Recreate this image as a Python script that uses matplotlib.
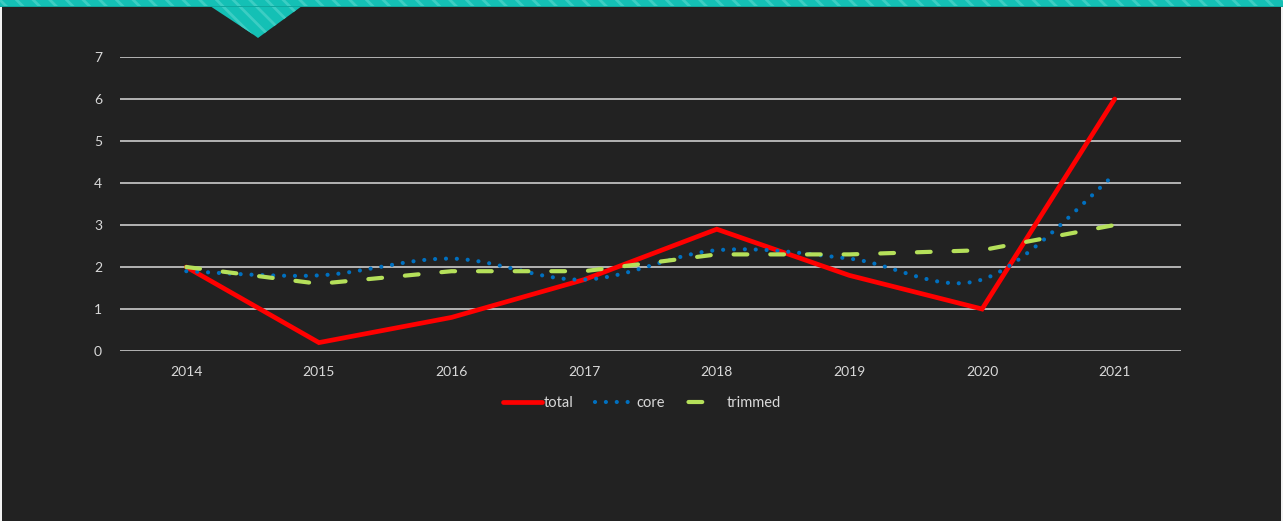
import numpy as np
import matplotlib
matplotlib.use("Agg")
import matplotlib.pyplot as plt
from matplotlib.patches import Rectangle, Polygon
from matplotlib.lines import Line2D

years = ["2014", "2015", "2016", "2017", "2018", "2019", "2020", "2021"]
total = [2.0, 0.2, 0.8, 1.7, 2.9, 1.8, 1.0, 6.0]
core = [1.9, 1.8, 2.2, 1.7, 2.4, 2.2, 1.7, 4.2]
trimmed = [2.0, 1.6, 1.9, 1.9, 2.3, 2.3, 2.4, 3.0]
yticks = [0, 1, 2, 3, 4, 5, 6, 7]

BG = "#222222"
TXT = "#d9d9d9"
GRID = "#bfbfbf"
TEAL = "#14c0b5"
TEAL2 = "#3ccdc3"
RED = "#ff0000"
BLUE = "#0070c0"
GREEN = "#b5e05a"

plt.rcParams["font.family"] = ["Lato", "DejaVu Sans"]
plt.rcParams["hatch.linewidth"] = 2.0


def smooth(xs, ys, n=30):
    xs = np.asarray(xs, float)
    ys = np.asarray(ys, float)
    P = np.column_stack([xs, ys])
    out = []
    for i in range(len(P) - 1):
        p0 = P[i - 1] if i > 0 else P[i]
        p1 = P[i]
        p2 = P[i + 1]
        p3 = P[i + 2] if i + 2 < len(P) else P[i + 1]
        c1 = p1 + (p2 - p0) / 6.0
        c2 = p2 - (p3 - p1) / 6.0
        t = np.linspace(0, 1, n)[:, None]
        seg = ((1 - t) ** 3) * p1 + 3 * ((1 - t) ** 2) * t * c1 + 3 * (1 - t) * t ** 2 * c2 + t ** 3 * p2
        out.append(seg if i == 0 else seg[1:])
    out = np.vstack(out)
    return out[:, 0], out[:, 1]


fig = plt.figure(figsize=(12.83, 5.21), dpi=100, facecolor=BG)
W, H = 1283, 521

# decorative top band with tab
band = Rectangle((0, 1 - 7 / H), 1, 7 / H, transform=fig.transFigure,
                 facecolor=TEAL, edgecolor=TEAL2, hatch="\\\\", linewidth=0, zorder=0)
fig.patches.append(band)
fig.patches.append(Rectangle((0, 1 - 7 / H), 1, 1 / H, transform=fig.transFigure,
                             facecolor="#0fa89e", linewidth=0))
tri = Polygon([(210 / W, 1 - 6 / H), (302 / W, 1 - 6 / H), (262 / W, 1 - 35 / H),
               (258 / W, 1 - 38 / H), (254 / W, 1 - 35 / H)], closed=True,
              transform=fig.transFigure, facecolor=TEAL, edgecolor=TEAL2,
              hatch="\\\\", linewidth=0, zorder=0)
fig.patches.append(tri)
# thin light edges
fig.patches.append(Rectangle((0, 0), 2 / W, 1 - 7 / H, transform=fig.transFigure,
                             facecolor="#f2f2f2", linewidth=0))
fig.patches.append(Rectangle((1 - 2 / W, 0), 2 / W, 1 - 7 / H, transform=fig.transFigure,
                             facecolor="#f2f2f2", linewidth=0))

ax = fig.add_axes([120 / W, 1 - 351 / H, (1181 - 120) / W, (351 - 57) / H])
ax.set_facecolor(BG)
x = np.arange(len(years))

for v in yticks:
    ax.axhline(v, color=GRID, linewidth=1.3, zorder=1)

ax.plot(x, total, color=RED, linewidth=3.4, solid_joinstyle="miter",
        solid_capstyle="round", zorder=3)
sx, sy = smooth(x, core)
ax.plot(sx, sy, color=BLUE, linewidth=3.0, linestyle=(0, (0.01, 2.6)),
        dash_capstyle="round", zorder=4)
ax.plot(x, trimmed, color=GREEN, linewidth=3.0, linestyle=(0, (3.3, 5.5)),
        dash_capstyle="round", zorder=5)

ax.set_xlim(-0.5, len(years) - 0.5)
ax.set_ylim(0, 7)
ax.set_xticks(x)
ax.set_xticklabels(years)
ax.set_yticks(yticks)
ax.tick_params(colors=TXT, labelsize=10, length=0)
ax.tick_params(axis="y", pad=13)
ax.tick_params(axis="x", pad=11)
for s in ax.spines.values():
    s.set_visible(False)

handles = [
    Line2D([], [], color=RED, linewidth=3.4, solid_capstyle="round"),
    Line2D([], [], color=BLUE, linewidth=3.0, linestyle=(0, (0.01, 2.6)), dash_capstyle="round"),
    Line2D([], [], color=GREEN, linewidth=3.0, linestyle=(-0.6, (3.3, 20)), dash_capstyle="round"),
]
labels = ["total", "core", "trimmed"]
leg = ax.legend(handles, labels, loc="upper center", bbox_to_anchor=(0.492, -0.108), ncol=3,
                frameon=False, fontsize=10.5, handlelength=2.7, handletextpad=0.1,
                columnspacing=1.5)
for t in leg.get_texts():
    t.set_color(TXT)

fig.savefig("out.png", dpi=100, facecolor=BG)
